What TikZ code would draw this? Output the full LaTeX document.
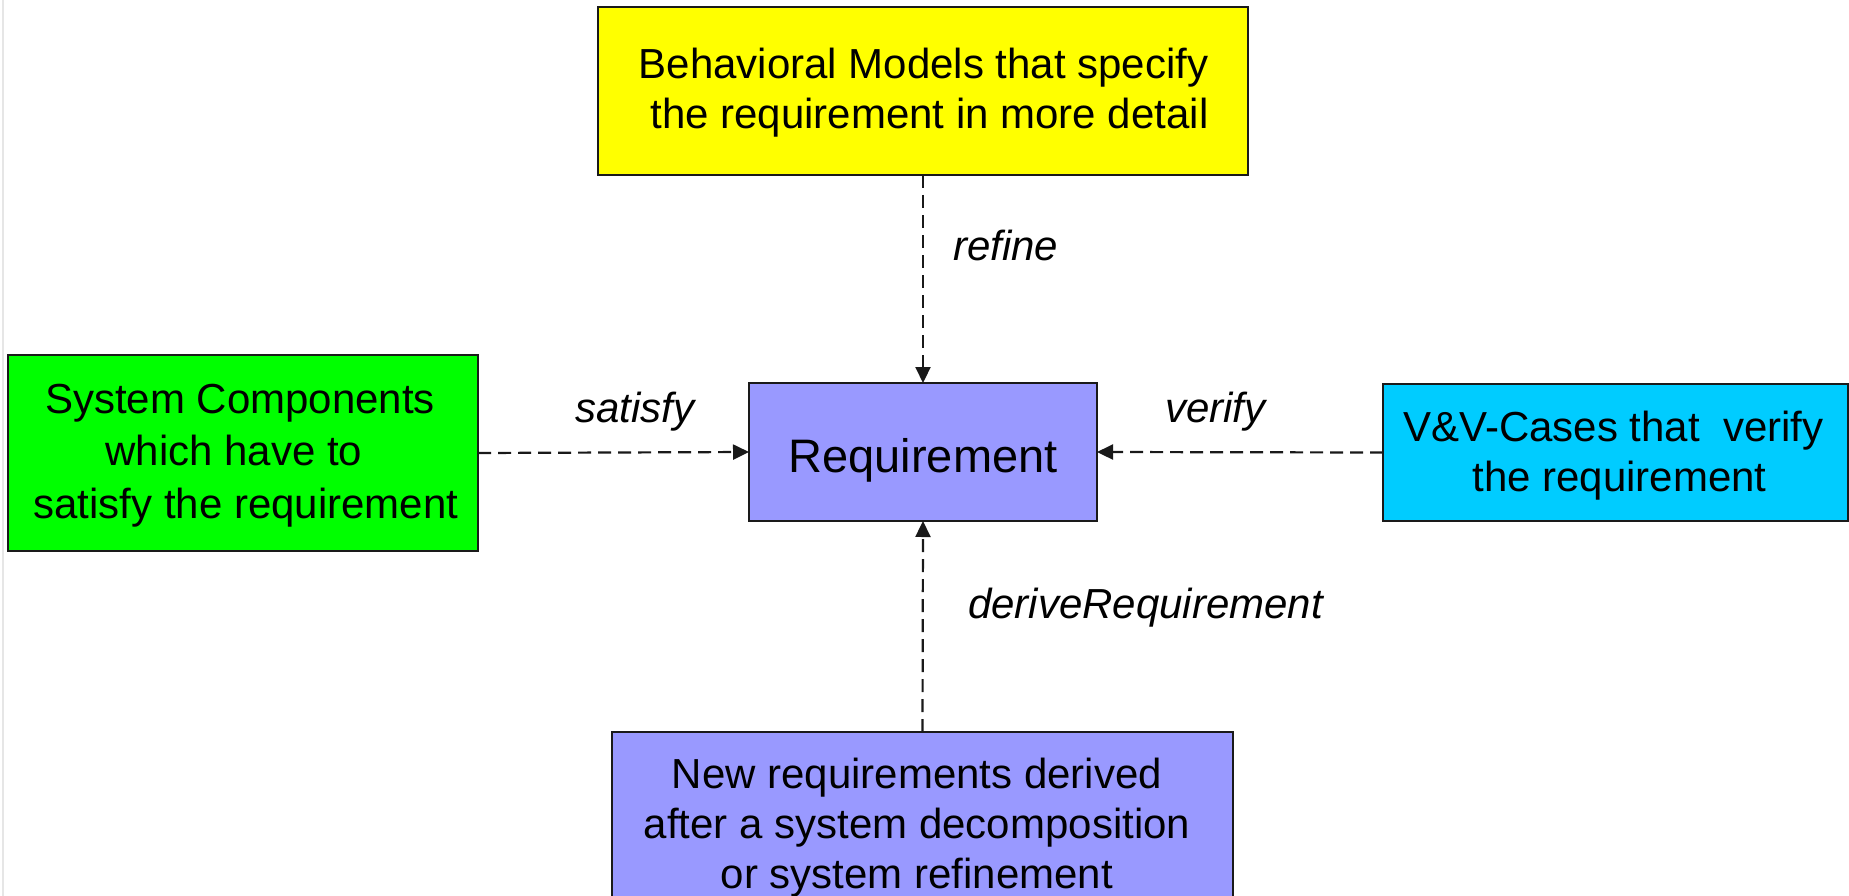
\documentclass[tikz,border=0pt]{standalone}
\usepackage{fontspec}
\setmainfont{Liberation Sans}
\usetikzlibrary{arrows.meta}
\definecolor{behY}{HTML}{FFFF00}
\definecolor{sysG}{HTML}{00FF00}
\definecolor{reqB}{HTML}{9999FF}
\definecolor{vvC}{HTML}{00CCFF}
\definecolor{boxline}{HTML}{1A1A1A}
\definecolor{stripe}{HTML}{E6E6E6}
\begin{document}
\begin{tikzpicture}[x=1pt,y=-1pt,
  box/.style={draw=boxline, line width=2.4pt, inner sep=0pt, outer sep=0pt},
  boxtext/.style={align=center, inner sep=0pt, font=\fontsize{42}{50}\selectfont},
  rel/.style={draw=black!90, line width=2.2pt, dash pattern=on 13pt off 7pt,
              -{Triangle[length=16pt,width=15pt]}},
  lbl/.style={anchor=base west, inner sep=0pt, font=\fontsize{42}{50}\selectfont\itshape}]
\useasboundingbox (0,0) rectangle (1849,896);
\clip (0,0) rectangle (1849,896);
\fill[white] (0,0) rectangle (1849,896);
\fill[stripe] (1.5,0) rectangle (4,896);

% boxes
\node[box, fill=behY, minimum width=650pt, minimum height=168pt] (beh) at (923,91) {};
\node[box, fill=sysG, minimum width=470pt, minimum height=196pt] (sys) at (243,453) {};
\node[box, fill=reqB, minimum width=348pt, minimum height=138pt] (req) at (923,452) {};
\node[box, fill=vvC, minimum width=465pt, minimum height=137pt] (vv) at (1615.5,452.5) {};
\node[box, fill=reqB, minimum width=621pt, minimum height=180pt] (new) at (922.5,822) {};

% texts
\node[boxtext] (behT) at (923.5,93) {Behavioral Models that specify\\\kern12pt the requirement in more detail};
\node[boxtext, font=\fontsize{42}{52.5}\selectfont] (sysT) at (246,455.5) {System Components\kern12pt\\which have to\kern24pt\\satisfy the requirement};
\node[anchor=base, inner sep=0pt, font=\fontsize{47}{56}\selectfont] (reqT) at (923,472) {Requirement};
\node[boxtext] (vvT) at (1619.5,456) {V\&V-Cases that\ \ verify\kern12pt\\the requirement};
\node[boxtext] (newT) at (917,827.5) {New requirements derived\\after a system decomposition\\or system refinement};

% connectors
\draw[rel] (beh.south) -- (req.north);
\draw[rel] (sys.east) -- (req.west);
\draw[rel] (vv.west) -- (req.east);
\draw[rel] (new.north) -- (req.south);

% labels
\node[lbl] (lrefine) at (953,260) {refine};
\node[lbl] (lsatisfy) at (575,422) {satisfy};
\node[lbl] (lverify) at (1165,422) {verify};
\node[lbl] (lderive) at (968,618) {deriveRequirement};
\end{tikzpicture}
\end{document}
